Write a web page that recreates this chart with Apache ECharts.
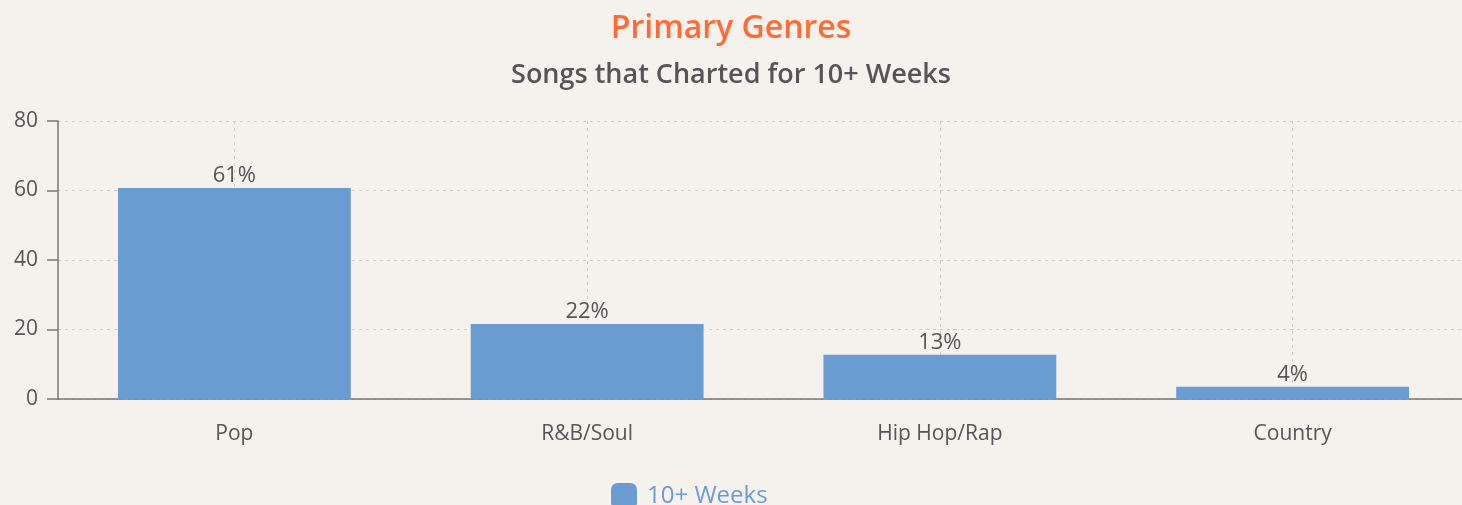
<!DOCTYPE html>
<html>
<head>
<meta charset="utf-8">
<script src="https://cdn.jsdelivr.net/npm/echarts@6/dist/echarts.min.js"></script>
<style>
  html, body { margin: 0; padding: 0; background: #f5f2ee; }
  #chart { width: 1462px; height: 505px; }
</style>
</head>
<body>
<div id="chart"></div>
<script>
var genres = ['Pop', 'R&B/Soul', 'Hip Hop/Rap', 'Country'];
var weeks10 = [60.7, 21.6, 12.7, 3.5];
var yTicks = [0, 20, 40, 60, 80];

var font = '"Open Sans", sans-serif';
var chart = echarts.init(document.getElementById('chart'));

var option = {
  backgroundColor: '#f5f2ee',
  textStyle: { fontFamily: font },
  title: [{
    text: 'Primary Genres',
    left: 'center',
    top: 8,
    textStyle: { color: '#ff6b35', fontSize: 32, fontWeight: 600, fontFamily: font }
  }, {
    text: 'Songs that Charted for 10+ Weeks',
    left: 'center',
    top: 57,
    textStyle: { color: '#555', fontSize: 27, fontWeight: 600, fontFamily: font }
  }],
  legend: {
    bottom: -9,
    left: 606,
    itemWidth: 26,
    itemHeight: 26,
    icon: 'roundRect',
    textStyle: { color: '#6a9bd1', fontSize: 24, fontFamily: font, padding: [0, 0, 0, 5] }
  },
  grid: { left: 58, right: -7, top: 121, bottom: 106, outerBoundsMode: 'none' },
  xAxis: {
    type: 'category',
    data: genres,
    axisLine: { lineStyle: { color: '#777', width: 1.5 } },
    axisTick: { alignWithLabel: true, length: 10, lineStyle: { color: '#777', width: 1.5 } },
    axisLabel: { color: '#555', fontSize: 21, margin: 25, fontFamily: font },
    splitLine: { show: true, alignWithLabel: true, lineStyle: { color: '#ccc', type: [3, 4] } }
  },
  yAxis: {
    type: 'value',
    min: yTicks[0],
    max: yTicks[yTicks.length - 1],
    interval: 20,
    axisLine: { show: true, lineStyle: { color: '#777', width: 1.5 } },
    axisTick: { show: true, length: 11, lineStyle: { color: '#777', width: 1.5 } },
    axisLabel: { color: '#555', fontSize: 21, margin: 20, fontFamily: font },
    splitLine: { lineStyle: { color: '#ccc', type: [3, 4] } }
  },
  series: [{
    name: '10+ Weeks',
    type: 'bar',
    data: weeks10,
    barWidth: '66%',
    itemStyle: { color: '#6a9bd1' },
    label: {
      show: true,
      position: 'top',
      distance: 1,
      color: '#555',
      fontSize: 22,
      fontFamily: font,
      formatter: function(p) { return Math.round(p.value) + '%'; }
    }
  }]
};

chart.setOption(option);
</script>
</body>
</html>
